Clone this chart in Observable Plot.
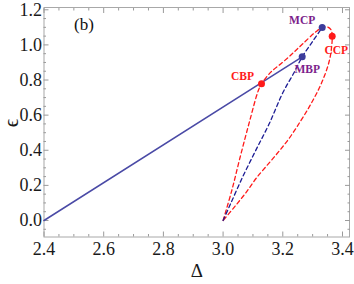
<!DOCTYPE html>
<html><head><meta charset="utf-8">
<script src="https://cdn.jsdelivr.net/npm/d3@7"></script>
<script src="https://cdn.jsdelivr.net/npm/@observablehq/plot@0.6"></script>
<style>
body{margin:0;background:#fff}
svg text { font-family: "Liberation Serif", "DejaVu Serif", serif !important; }
</style>
</head><body><div id="chart"></div>
<script>
// ---- data ----
const xTicks = [2.4, 2.6, 2.8, 3.0, 3.2, 3.4];
const yTicks = [0.0, 0.2, 0.4, 0.6, 0.8, 1.0, 1.2];
const xMinor = [2.45,2.5,2.55,2.65,2.7,2.75,2.85,2.9,2.95,3.05,3.1,3.15,3.25,3.3,3.35];
const yMinor = [-0.05,0.05,0.1,0.15,0.25,0.3,0.35,0.45,0.5,0.55,0.65,0.7,0.75,0.85,0.9,0.95,1.05,1.1,1.15];

// solid line (Δ, ε)
const solidDelta = [2.4, 3.265];
const solidEps   = [0.0, 0.932];

// red dashed loop: cusp -> CBP -> MCP -> CCP -> cusp
const redDelta = [3.0,3.029,3.057,3.088,3.118,3.129,3.16,3.199,3.235,3.266,3.311,3.332,3.350,3.362,3.3655,3.363,3.356,3.341,3.321,3.293,3.261,3.218,3.168,3.113,3.075,3.037,3.0];
const redEps   = [0.0,0.17,0.36,0.56,0.74,0.7785,0.845,0.90,0.955,1.005,1.075,1.099,1.102,1.085,1.0495,0.98,0.91,0.83,0.75,0.66,0.57,0.46,0.355,0.245,0.155,0.075,0.0];

// blue dashed: cusp -> MBP -> MCP
const blueDelta = [3.0,3.025,3.065,3.109,3.154,3.20,3.238,3.265,3.300,3.332];
const blueEps   = [0.0,0.095,0.246,0.398,0.549,0.727,0.843,0.932,1.02,1.099];

// special points
const pointNames = ["CBP", "MBP", "MCP", "CCP"];
const pointDelta = [3.1287, 3.265, 3.332, 3.3655];
const pointEps   = [0.7785, 0.932, 1.099, 1.0495];

// ---- build tables ----
const zipXY = (xs, ys) => xs.map((x, i) => ({x, y: ys[i]}));
const solid = zipXY(solidDelta, solidEps);
const red = zipXY(redDelta, redEps);
const blue = zipXY(blueDelta, blueEps);
const pts = pointNames.map((name, i) => ({name, x: pointDelta[i], y: pointEps[i]}));

const RED = "#ff1a1a", BLUE_SOLID = "#4a4aa6", BLUE_DASH = "#1c1c94", BLUE_PT = "#3c3c9c", PURPLE = "#7d1f8c";
const ptColor = {CBP: RED, CCP: RED, MBP: BLUE_PT, MCP: BLUE_PT};
const lblColor = {CBP: RED, CCP: RED, MBP: PURPLE, MCP: PURPLE};
const lblOff = {CBP: [-19, -7], MBP: [5, 12], MCP: [-20, -7], CCP: [4, 14]};

const font = "Liberation Serif";
const TC = "#9a9a9a";
const fmt = d3.format(".1f");

const chart = Plot.plot({
  width: 354, height: 284,
  marginLeft: 43.5, marginRight: 5, marginTop: 7, marginBottom: 47.5,
  style: {background: "#fff", fontFamily: font},
  x: {domain: [2.4, 3.4235]},
  y: {domain: [-0.094, 1.213]},
  marks: [
    Plot.frame({stroke: "#a8a8a8"}),
    // inward ticks, 4 sides
    Plot.axisX(xTicks, {anchor: "bottom", tickSize: -5, text: null, label: null, stroke: TC}),
    Plot.axisX(xTicks, {anchor: "top", tickSize: -5, text: null, label: null, stroke: TC}),
    Plot.axisX(xMinor, {anchor: "bottom", tickSize: -2.5, text: null, label: null, stroke: TC}),
    Plot.axisX(xMinor, {anchor: "top", tickSize: -2.5, text: null, label: null, stroke: TC}),
    Plot.axisY(yTicks, {anchor: "left", tickSize: -5, text: null, label: null, stroke: TC}),
    Plot.axisY(yTicks, {anchor: "right", tickSize: -5, text: null, label: null, stroke: TC}),
    Plot.axisY(yMinor, {anchor: "left", tickSize: -2.5, text: null, label: null, stroke: TC}),
    Plot.axisY(yMinor, {anchor: "right", tickSize: -2.5, text: null, label: null, stroke: TC}),
    // tick labels
    Plot.text(xTicks, {x: d => d, frameAnchor: "bottom", dy: 12, lineAnchor: "middle", text: d => fmt(d), fontSize: 18, fontFamily: font, fill: "#1a1a1a"}),
    Plot.text(yTicks, {y: d => d, frameAnchor: "left", dx: -2, textAnchor: "end", lineAnchor: "middle", text: d => fmt(d), fontSize: 18, fontFamily: font, fill: "#1a1a1a"}),
    // axis titles
    Plot.text(["Δ"], {frameAnchor: "bottom", dy: 34, fontSize: 19, fontFamily: font, fill: "#1a1a1a", lineAnchor: "middle"}),
    Plot.text(["ϵ"], {frameAnchor: "left", dx: -33, dy: 5, rotate: -90, fontSize: 21, fontFamily: font, fill: "#1a1a1a"}),
    Plot.text(["(b)"], {frameAnchor: "top-left", dx: 30, dy: 17, fontSize: 17, fontFamily: font, fill: "#111", lineAnchor: "middle"}),
    // curves
    Plot.line(solid, {x: "x", y: "y", stroke: BLUE_SOLID, strokeWidth: 1.5}),
    Plot.line(red, {x: "x", y: "y", stroke: RED, strokeWidth: 1.3, strokeDasharray: "4,3", curve: "catmull-rom"}),
    Plot.line(blue, {x: "x", y: "y", stroke: BLUE_DASH, strokeWidth: 1.3, strokeDasharray: "4,3", curve: "catmull-rom"}),
    // points
    Plot.dot(pts, {x: "x", y: "y", r: 3.5, fill: d => ptColor[d.name], stroke: "none"}),
    ...pts.map(p => Plot.text([p], {x: "x", y: "y", text: "name", dx: lblOff[p.name][0], dy: lblOff[p.name][1],
      fill: lblColor[p.name], fontWeight: "bold", fontSize: 11.5, fontFamily: font, lineAnchor: "middle"}))
  ]
});
document.getElementById("chart").appendChild(chart);
</script>
</body></html>
